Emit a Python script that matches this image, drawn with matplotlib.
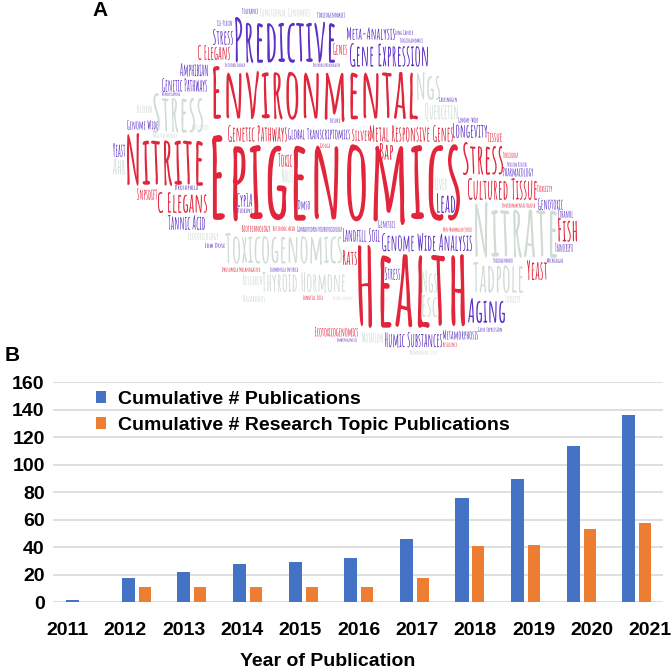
import matplotlib
matplotlib.use("Agg")
import matplotlib.pyplot as plt
from matplotlib import font_manager
from matplotlib.textpath import TextPath
from matplotlib.patches import PathPatch
from matplotlib.font_manager import FontProperties
from matplotlib.transforms import Affine2D

# ---- panel B data ----
years = ["2011", "2012", "2013", "2014", "2015", "2016", "2017", "2018", "2019", "2020", "2021"]
cum_pubs = [2, 18, 22, 28, 29, 32, 46, 76, 90, 114, 136]
cum_topic_pubs = [0, 11, 11, 11, 11, 11, 18, 41, 42, 53, 58]
yticks = [0, 20, 40, 60, 80, 100, 120, 140, 160]

# ---- panel A word cloud: words and colour group (r = red, p = purple, g = grey) ----
words = [
    "PREDICTIVE", "STRESS", "CIS-PLATIN", "TOLERANCE", "FUNCTIONAL GENOMICS",
    "TOXICOGENOMICS", "C ELEGANS", "GENES", "META-ANALYSIS", "LUNG CANCER",
    "TOXICOGENOMICS", "GENE EXPRESSION", "AMPHIBIAN", "ECOTOXICOLOGY", "DROSOPHILA MELANOGASTER",
    "ENVIRONMENTAL", "GENETIC PATHWAYS", "NONOVERLAPPING", "STRESS", "BLOOD",
    "GENOME WIDE", "MULTI-SPECIES", "NGS", "CARCINOGEN", "QUERCETIN",
    "GENOME-WIDE", "LONGEVITY", "TISSUE", "GENETIC PATHWAYS", "GLOBAL TRANSCRIPTOMICS",
    "SILVER", "METAL RESPONSIVE GENES", "FUTURE", "BAP", "NITRITE",
    "EPIGENOMICS", "YEAST", "AHR", "GOLGI", "TOXIC",
    "MOUSE", "STRESS", "TOXICOLOGY", "POTASSIUM DISULFIDE", "PHARMACOLOGY",
    "CULTURED TISSUE", "LIVER", "TOXICITY", "SNPSDIFT", "DROSOPHILA",
    "C ELEGANS", "CYP1A", "DIOXINS", "DMSO", "TANNIC ACID",
    "BIOTECHNOLOGY", "RETINOIC ACID", "GONADOTROPIN NEUROTOXICOLOGY", "LANDFILL SOIL", "TOXICOGENOMICS",
    "ECOTOXICOLOGY", "LOW DOSE", "RATS", "HEALTH", "DROSOPHILA MELANOGASTER",
    "SALMONELLA ENTERICA", "RESEARCH", "THYROID HORMONE", "LANDFILL SOIL", "HAZARDOUS",
    "ECOTOXICOGENOMICS", "EMBRYOGENESIS", "MUTATION", "NATURAL CHEMICALS", "LEAD",
    "GENETICS", "NON-MAMMALIAN SPECIES", "GENOME WIDE ANALYSIS", "NITRATE", "ENVIRONMENTAL HEALTH",
    "GENOTOXIC", "ETHANOL", "FISH", "TRANSCRIPTS", "TOXICOGENOMICS",
    "MICROALGAE", "YEAST", "TADPOLE", "STRESS", "NGS",
    "ESC", "TOXICITY", "AGING", "GENE EXPRESSION", "HUMIC SUBSTANCES",
    "METAMORPHOSIS", "RESILIENCE", "MAMMALIAN CELLS", "LUMINESCENCE", "MICROARRAY",
]
groups = [
    "p", "p", "p", "p", "g",
    "p", "r", "r", "p", "p",
    "p", "p", "p", "p", "p",
    "r", "p", "p", "g", "g",
    "p", "g", "g", "p", "g",
    "p", "p", "r", "r", "p",
    "r", "r", "p", "r", "r",
    "r", "p", "g", "r", "r",
    "g", "r", "r", "p", "p",
    "r", "g", "r", "r", "p",
    "r", "p", "p", "p", "p",
    "r", "r", "p", "p", "g",
    "g", "p", "r", "r", "r",
    "p", "g", "g", "r", "g",
    "r", "p", "g", "g", "p",
    "p", "r", "p", "g", "r",
    "p", "p", "r", "p", "p",
    "p", "r", "g", "p", "g",
    "g", "g", "p", "p", "p",
    "p", "r", "g", "g", "g",
]

# word boxes in picture pixels (x0, y0, x1, y1), same order as words
layout = [
    (235, 17, 335, 63), (213, 29, 233, 45), (217, 20, 232, 26), (242, 8, 258, 14), (260, 8, 310, 17),
    (317, 12, 345, 18), (198, 45, 230, 60), (333, 43, 347, 55), (347, 27, 395, 40), (395, 30, 413, 35),
    (400, 38, 423, 43), (350, 43, 428, 67), (180, 63, 208, 77), (225, 63, 245, 67), (313, 63, 340, 67),
    (213, 66, 418, 122), (162, 78, 207, 92), (162, 92, 180, 96), (153, 93, 203, 133), (137, 105, 152, 113),
    (127, 120, 158, 130), (192, 124, 208, 130), (417, 72, 440, 100), (439, 97, 457, 102), (425, 103, 458, 122),
    (458, 117, 478, 123), (453, 123, 487, 138), (487, 132, 502, 142), (228, 125, 287, 142), (288, 128, 350, 140),
    (352, 129, 370, 141), (370, 125, 453, 142), (330, 118, 340, 123), (380, 143, 393, 160), (127, 133, 203, 186),
    (212, 135, 460, 225), (113, 143, 125, 157), (113, 158, 125, 175), (320, 143, 330, 148), (278, 153, 292, 167),
    (282, 168, 293, 183), (463, 142, 503, 175), (503, 152, 518, 158), (507, 162, 527, 167), (503, 167, 533, 177),
    (468, 178, 537, 200), (435, 177, 447, 190), (537, 185, 552, 192), (137, 188, 157, 200), (175, 185, 198, 190),
    (158, 192, 207, 213), (237, 193, 252, 207), (237, 208, 252, 213), (298, 200, 310, 210), (168, 215, 205, 230),
    (242, 225, 270, 232), (273, 226, 295, 231), (297, 226, 342, 232), (343, 228, 380, 242), (225, 233, 342, 265),
    (188, 232, 218, 240), (205, 243, 225, 248), (343, 250, 357, 265), (358, 245, 465, 328), (222, 267, 260, 272),
    (270, 267, 298, 272), (243, 275, 262, 285), (262, 272, 345, 293), (303, 295, 323, 300), (243, 295, 265, 302),
    (315, 327, 358, 337), (337, 338, 357, 342), (362, 332, 383, 343), (333, 296, 353, 300), (437, 193, 455, 213),
    (378, 220, 395, 228), (443, 227, 472, 232), (382, 233, 472, 252), (475, 202, 557, 258), (502, 203, 535, 208),
    (538, 198, 563, 210), (558, 210, 573, 218), (558, 218, 577, 242), (555, 243, 573, 252), (493, 258, 513, 263),
    (547, 258, 563, 263), (527, 260, 547, 280), (473, 262, 523, 293), (385, 267, 400, 280), (422, 270, 437, 293),
    (422, 295, 437, 317), (505, 295, 520, 303), (468, 298, 505, 323), (478, 327, 502, 332), (385, 332, 442, 348),
    (443, 330, 478, 340), (443, 342, 457, 347), (410, 350, 437, 355), (530, 265, 545, 272), (153, 133, 177, 138),
]

palette = {"r": "#E1253B", "p": "#5B2FC4", "g": "#CFDCD3"}

# Amatic SC (small caps) if it is around, otherwise a narrow sans in capitals
installed = {f.name for f in font_manager.fontManager.ttflist}
if "Amatic SC" in installed:
    fp = FontProperties(family=["Amatic SC", "DejaVu Sans"], weight="bold")
    shown = [w.title() for w in words]
else:
    fp = FontProperties(family=["Liberation Sans Narrow", "DejaVu Sans"], weight="normal")
    shown = words

W = 671
fig = plt.figure(figsize=(6.71, 6.71), dpi=100)

# ---- panel A ----
cloud = fig.add_axes([0, 0, 1, 1])
cloud.set_xlim(0, W)
cloud.set_ylim(W, 0)
cloud.axis("off")

for word, grp, (x0, y0, x1, y1) in zip(shown, groups, layout):
    tp = TextPath((0, 0), word, size=100, prop=fp)
    bb = tp.get_extents()
    tr = (Affine2D().translate(-bb.x0, -bb.y0)
          .scale((x1 - x0) / bb.width, -(y1 - y0) / bb.height)
          .translate(x0, y1))
    cloud.add_patch(PathPatch(tr.transform_path(tp), facecolor=palette[grp], edgecolor="none"))

fig.text(92 / W, 1 - 11 / W, "A", fontsize=15, fontweight="bold", family="Liberation Sans", va="center")
fig.text(5 / W, 1 - 355 / W, "B", fontsize=15, fontweight="bold", family="Liberation Sans", va="center")

# ---- panel B ----
ax = fig.add_axes([53 / W, 1 - 602.3 / W, 610 / W, 220 / W])
x = list(range(len(years)))
b1 = ax.bar([i - 0.145 for i in x], cum_pubs, width=0.235, color="#4472C4", label="Cumulative # Publications")
b2 = ax.bar([i + 0.15 for i in x], cum_topic_pubs, width=0.215, color="#ED7D31",
            label="Cumulative # Research Topic Publications")
ax.set_xlim(-0.5, 10.47)
ax.set_ylim(0, 160)
ax.set_yticks(yticks)
ax.set_yticklabels([str(v) for v in yticks], fontsize=14, fontweight="bold", family="Liberation Sans")
ax.tick_params(axis="y", length=0, pad=6)
ax.set_xticks([])
ax.yaxis.grid(True, color="#D9D9D9", linewidth=1.2)
ax.set_axisbelow(True)
for s in ax.spines.values():
    s.set_visible(False)

# year labels sit on a slightly wider spacing than the bars
ax2 = ax.twiny()
ax2.set_xlim(-0.24, 10.22)
ax2.xaxis.set_ticks_position("bottom")
ax2.set_xticks(x)
ax2.set_xticklabels(years, fontsize=14, fontweight="bold", family="Liberation Sans")
ax2.tick_params(axis="x", length=0, pad=14)
for s in ax2.spines.values():
    s.set_visible(False)

fig.text(328 / W, 1 - 662 / W, "Year of Publication", fontsize=14, fontweight="bold",
         family="Liberation Sans", ha="center", va="center")

ax.legend(handles=[b1, b2], loc="upper left", bbox_to_anchor=(88 / W, 1 - 383 / W),
          bbox_transform=fig.transFigure, frameon=False, handlelength=0.55, handleheight=0.55,
          handletextpad=0.6, labelspacing=0.45, borderaxespad=0,
          prop=FontProperties(family="Liberation Sans", weight="bold", size=14))

fig.savefig("out.png", dpi=100)
